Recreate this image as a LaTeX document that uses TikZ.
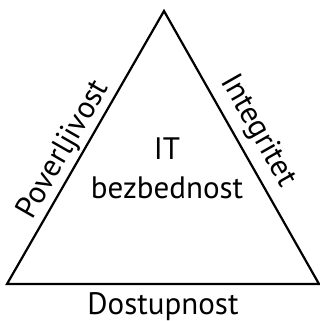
\documentclass[tikz,border=0pt]{standalone}
\usepackage{fontspec}
\setmainfont{PT Sans}
\usetikzlibrary{positioning}

\begin{document}
\begin{tikzpicture}[x=1pt,y=-1pt,line width=2.2pt,
        every node/.style={font=\fontsize{31}{39}\selectfont,inner sep=2pt}]

  \useasboundingbox (0,0) rectangle (320,321);

  \coordinate (T) at (164,11);
  \coordinate (L) at (7,284);
  \coordinate (R) at (319,284);

  \draw[line join=miter] (L) -- node[pos=0.46,sloped,above] (conf) {Poverljivost} (T)
        -- node[pos=0.48,sloped,above=5pt] (integ) {Integritet} (R)
        -- node[below=5pt] (avail) {Dostupnost} cycle;

  \node[align=center] (it) at (167,168) {IT\\bezbednost};

\end{tikzpicture}
\end{document}
